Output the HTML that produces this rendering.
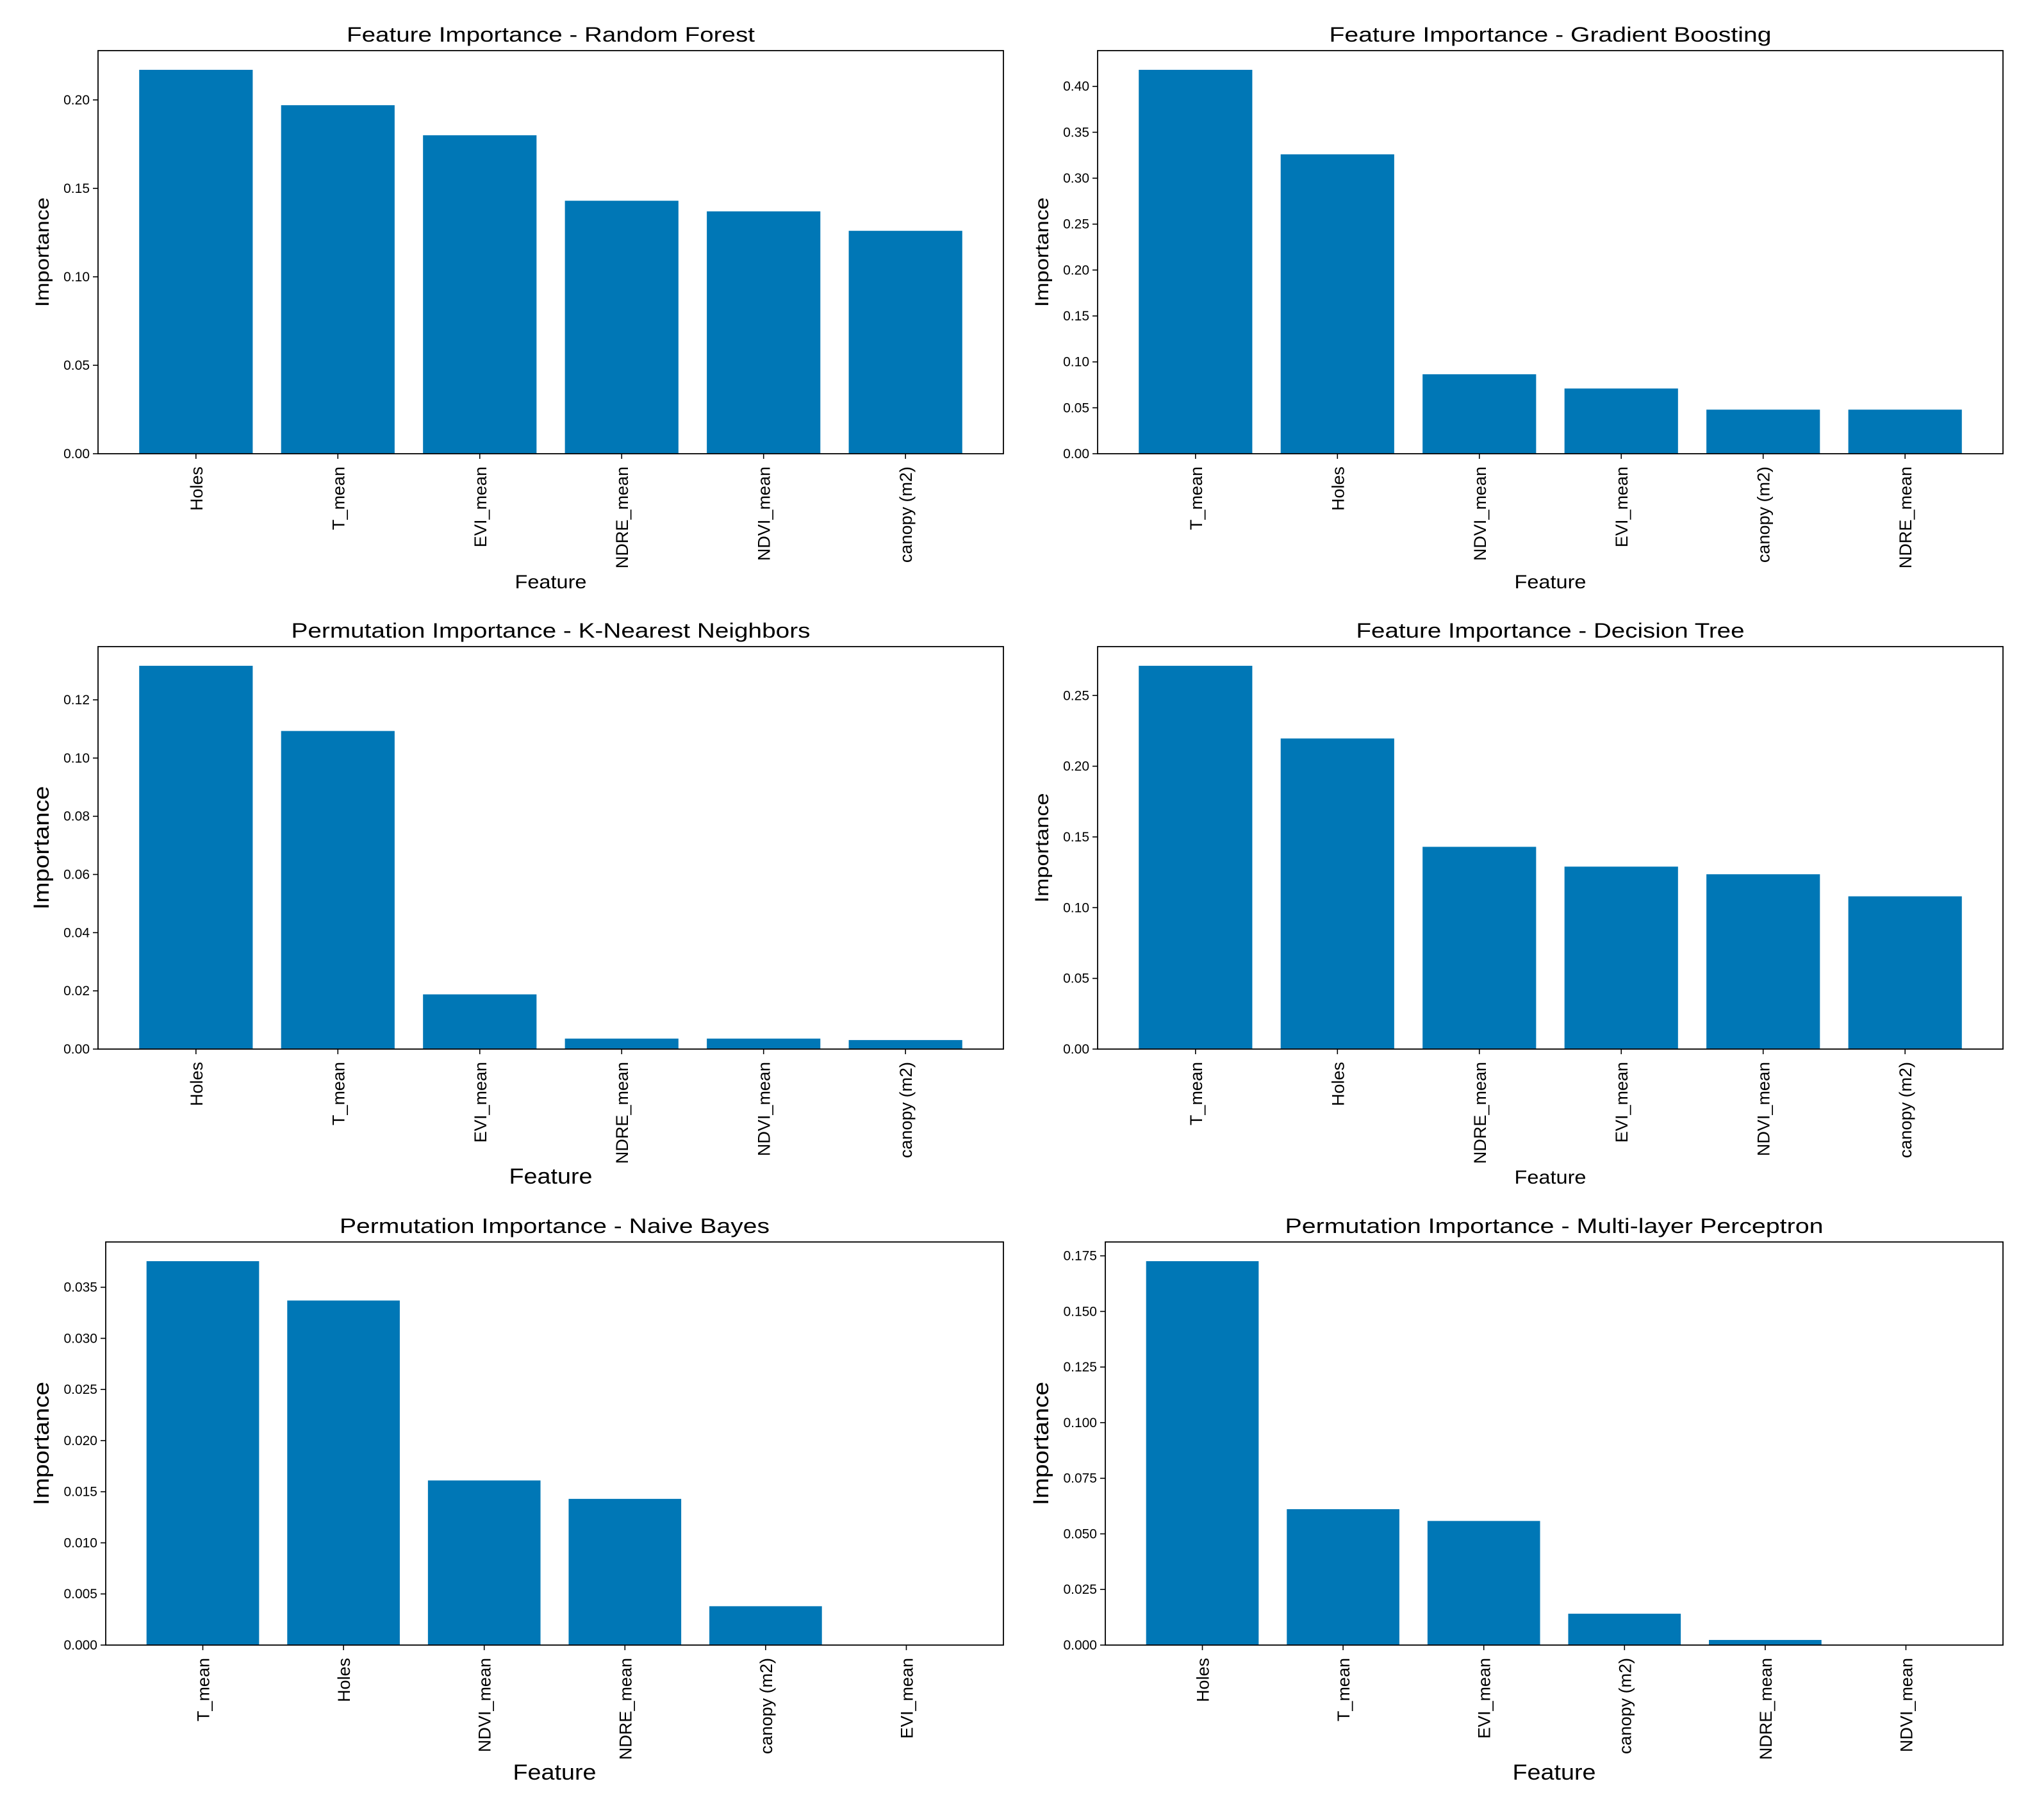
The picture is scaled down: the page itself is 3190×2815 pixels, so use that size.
<!DOCTYPE html>
<html><head><meta charset="utf-8"><style>
html,body{margin:0;padding:0;background:#fff;}
svg{display:block;font-family:"Liberation Sans",sans-serif;}
</style></head><body>
<svg id="fig" width="3190" height="2815" viewBox="0 0 3190 2815" xmlns="http://www.w3.org/2000/svg"></svg>
<script>
const rfCats = ["Holes","T_mean","EVI_mean","NDRE_mean","NDVI_mean","canopy (m2)"];
const rfVals = [0.217,0.197,0.180,0.143,0.137,0.126];
const rfTicks = ["0.00","0.05","0.10","0.15","0.20"];
const gbCats = ["T_mean","Holes","NDVI_mean","EVI_mean","canopy (m2)","NDRE_mean"];
const gbVals = [0.418,0.326,0.0865,0.071,0.048,0.048];
const gbTicks = ["0.00","0.05","0.10","0.15","0.20","0.25","0.30","0.35","0.40"];
const knnCats = ["Holes","T_mean","EVI_mean","NDRE_mean","NDVI_mean","canopy (m2)"];
const knnVals = [0.1317,0.1093,0.0188,0.0036,0.0036,0.0031];
const knnTicks = ["0.00","0.02","0.04","0.06","0.08","0.10","0.12"];
const dtCats = ["T_mean","Holes","NDRE_mean","EVI_mean","NDVI_mean","canopy (m2)"];
const dtVals = [0.271,0.2196,0.143,0.129,0.1236,0.108];
const dtTicks = ["0.00","0.05","0.10","0.15","0.20","0.25"];
const nbCats = ["T_mean","Holes","NDVI_mean","NDRE_mean","canopy (m2)","EVI_mean"];
const nbVals = [0.03755,0.0337,0.0161,0.0143,0.0038,0];
const nbTicks = ["0.000","0.005","0.010","0.015","0.020","0.025","0.030","0.035"];
const mlpCats = ["Holes","T_mean","EVI_mean","canopy (m2)","NDRE_mean","NDVI_mean"];
const mlpVals = [0.1726,0.0611,0.0558,0.0141,0.0023,0];
const mlpTicks = ["0.000","0.025","0.050","0.075","0.100","0.125","0.150","0.175"];

const NS="http://www.w3.org/2000/svg";
const svg=document.getElementById('fig');
function mk(tag,attrs,parent,text){
  const e=document.createElementNS(NS,tag);
  for(const k in attrs)e.setAttribute(k,attrs[k]);
  if(text!==undefined)e.textContent=text;
  parent.appendChild(e);return e;
}
const panels=[
 {id:'rf',title:'Feature Importance - Random Forest',tw:637,cats:rfCats,vals:rfVals,ticks:rfTicks,L:153,R:1566,T:79,B:708,ylw:171,xlw:112,ylx:65},
 {id:'gb',title:'Feature Importance - Gradient Boosting',tw:690,cats:gbCats,vals:gbVals,ticks:gbTicks,L:1713,R:3126,T:79,B:708,ylw:171,xlw:112,ylx:1625},
 {id:'knn',title:'Permutation Importance - K-Nearest Neighbors',tw:810,cats:knnCats,vals:knnVals,ticks:knnTicks,L:153,R:1566,T:1009,B:1637,ylw:193,xlw:130,ylx:65},
 {id:'dt',title:'Feature Importance - Decision Tree',tw:606,cats:dtCats,vals:dtVals,ticks:dtTicks,L:1713,R:3126,T:1009,B:1637,ylw:171,xlw:112,ylx:1625},
 {id:'nb',title:'Permutation Importance - Naive Bayes',tw:671,cats:nbCats,vals:nbVals,ticks:nbTicks,L:165,R:1566,T:1938,B:2567,ylw:193,xlw:130,ylx:65},
 {id:'mlp',title:'Permutation Importance - Multi-layer Perceptron',tw:840,cats:mlpCats,vals:mlpVals,ticks:mlpTicks,L:1725,R:3126,T:1938,B:2567,ylw:193,xlw:130,ylx:1625}
];
panels.forEach(p=>{
  const g=mk('g',{},svg);
  
  
  const ymax=Math.max(...p.vals)*1.05;
  const y=v=>p.B-(v/ymax)*(p.B-p.T);
  const x0=-0.69,x1=5.69;
  const x=v=>p.L+(v-x0)/(x1-x0)*(p.R-p.L);
  p.vals.forEach((v,i)=>{
    const r=mk('rect',{x:x(i-0.4),y:y(v),width:x(i+0.4)-x(i-0.4),height:p.B-y(v),fill:'#0077b6'},g);
    
    
    mk('line',{x1:x(i),x2:x(i),y1:p.B,y2:p.B+8,stroke:'#000','stroke-width':1.6},g);
    const t=mk('text',{x:0,y:0,transform:`translate(${x(i)+10},${p.B+20}) rotate(-90)`,'text-anchor':'end','font-size':27},g,p.cats[i]);
    
    
  });
  p.ticks.forEach(s=>{
    const v=parseFloat(s);const yy=y(v);
    mk('line',{x1:p.L-8,x2:p.L,y1:yy,y2:yy,stroke:'#000','stroke-width':1.6},g);
    const t=mk('text',{x:p.L-13,y:yy+7,'text-anchor':'end','font-size':21},g,s);
    
    
  });
  const fr=mk('rect',{x:p.L,y:p.T,width:p.R-p.L,height:p.B-p.T,fill:'none',stroke:'#000','stroke-width':1.8},g);
  
  
  const cx=(p.L+p.R)/2;
  const tt=mk('text',{x:cx,y:p.T-14,'text-anchor':'middle','font-size':32,textLength:p.tw,lengthAdjust:'spacingAndGlyphs'},g,p.title);
  
  
  const xl=mk('text',{x:cx,y:p.B+210,'text-anchor':'middle','font-size':p.xlw>120?34:30,textLength:p.xlw,lengthAdjust:'spacingAndGlyphs'},g,'Feature');
  
  
  const ym=(p.T+p.B)/2;
  const yl=mk('text',{x:0,y:0,transform:`translate(${p.ylx+11},${ym}) rotate(-90)`,'text-anchor':'middle','font-size':p.ylw>180?34:30,textLength:p.ylw,lengthAdjust:'spacingAndGlyphs'},g,'Importance');
  
  
});
</script>
</body></html>
